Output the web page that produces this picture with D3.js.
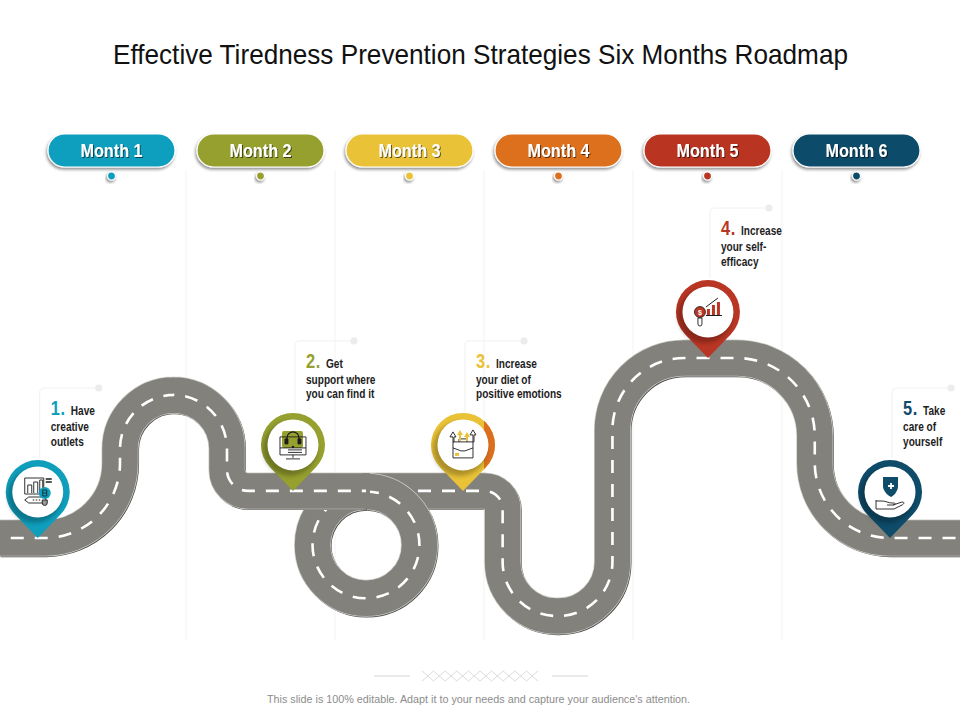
<!DOCTYPE html>
<html>
<head>
<meta charset="utf-8">
<script src="https://cdn.jsdelivr.net/npm/d3@7"></script>
<style>
html,body{margin:0;padding:0;background:#fff;}
svg{display:block;}
text{font-family:"Liberation Sans",Arial,sans-serif;}
.narrow{font-weight:700;}
</style>
</head>
<body>
<svg id="chart" width="960" height="720"></svg>
<script>
// months along the top
var months=["Month 1","Month 2","Month 3","Month 4","Month 5","Month 6"];
var monthColors=["#0f9fbd","#95a02f","#e9c237","#dc6f1f","#b93624","#0e4c6a"];

// road: x in months, y in height level, corner radius in level units
var roadAMonth=[-0.25,0.557,0.557,1.275,1.275,2.208];
var roadALevel=[34,34,81.7,81.7,49.7,49.7];
var roadARadius=[0,25,18,18,7,0];
var roadBMonth=[2.208,3.125,3.125,3.862,3.862,5.22,5.22,6.195];
var roadBLevel=[49.7,49.7,8,8,94,94,34,34];
var roadBRadius=[0,6,18,18,24,26,25,0];
var loopMonth=2.208, loopLevel=31.7, loopRadius=17.8;

// milestones
var stepMonth=[0.005,1.718,2.859,4.503,5.725];
var stepLevel=[34,49.7,49.7,94,34];
var stepColors=["#0f9fbd","#95a02f","#e9c237","#b93624","#0e4c6a"];
var stepFirst=["Have","Get","Increase","Increase","Take"];
var stepRest=[["creative","outlets"],["support where","you can find it"],["your diet of","positive emotions"],["your self-","efficacy"],["care of","yourself"]];

var svg=d3.select("#chart");
var x=d3.scaleLinear().domain([0,6]).range([37,931]);
var y=d3.scaleLinear().domain([0,100]).range([640,340]);
var unit=y(0)-y(1);

var defs=svg.append("defs");
var blur=defs.append("filter").attr("id","blur").attr("x","-30%").attr("y","-30%").attr("width","160%").attr("height","160%");
blur.append("feGaussianBlur").attr("stdDeviation",2);
var shadow=defs.append("filter").attr("id","shadow").attr("x","-20%").attr("y","-30%").attr("width","140%").attr("height","170%");
shadow.append("feDropShadow").attr("dx",-1).attr("dy",2).attr("stdDeviation",1.5).attr("flood-color","#000").attr("flood-opacity",0.45);
var txtShadow=defs.append("filter").attr("id","txtShadow").attr("x","-10%").attr("y","-20%").attr("width","120%").attr("height","150%");
txtShadow.append("feDropShadow").attr("dx",1).attr("dy",1).attr("stdDeviation",0.6).attr("flood-color","#000").attr("flood-opacity",0.6);
defs.append("clipPath").attr("id","accentClip").append("rect").attr("x",21).attr("y",-90).attr("width",20).attr("height",80);

// no narrow face is installed, so squeeze the glyphs to the measured width
function squeeze(sel,factor){
	sel.each(function(){
		this.setAttribute("textLength",this.getComputedTextLength()*factor);
		this.setAttribute("lengthAdjust","spacingAndGlyphs");
	});
}

// title
svg.append("text").attr("x",480.5).attr("y",64).attr("text-anchor","middle")
	.attr("font-size",28).attr("fill","#111")
	.attr("textLength",735).attr("lengthAdjust","spacingAndGlyphs")
	.text("Effective Tiredness Prevention Strategies Six Months Roadmap");

// column separators
svg.append("g").selectAll("line").data(d3.range(1,6)).enter().append("line")
	.attr("x1",function(d){return x(d);}).attr("x2",function(d){return x(d);})
	.attr("y1",170).attr("y2",640)
	.attr("stroke","#f3f3f3").attr("stroke-width",1);

// month pills
var pill=svg.append("g").selectAll("g").data(months).enter().append("g")
	.attr("transform",function(d,i){return "translate("+x(i+0.5)+",150.5)";});
pill.append("rect").attr("x",-63.5).attr("y",-16.5).attr("width",127).attr("height",33).attr("rx",16.5)
	.attr("fill",function(d,i){return monthColors[i];})
	.attr("stroke","#fff").attr("stroke-width",1.2)
	.attr("filter","url(#shadow)");
pill.append("text").attr("class","narrow").attr("y",6.5).attr("text-anchor","middle")
	.attr("font-size",19).attr("fill","#fff").attr("filter","url(#txtShadow)")
	.attr("textLength",62).attr("lengthAdjust","spacingAndGlyphs")
	.text(function(d){return d;});
pill.append("circle").attr("cy",25.5).attr("r",4).attr("stroke","#fff").attr("stroke-width",1.2)
	.attr("fill",function(d,i){return monthColors[i];})
	.attr("filter","url(#shadow)");

// rounded polyline through the road corners
function roadPath(ms,ls,rs){
	var p=d3.path();
	p.moveTo(x(ms[0]),y(ls[0]));
	for(var i=1;i<ms.length-1;i++){
		p.arcTo(x(ms[i]),y(ls[i]),x(ms[i+1]),y(ls[i+1]),rs[i]*unit);
	}
	p.lineTo(x(ms[ms.length-1]),y(ls[ls.length-1]));
	return p.toString();
}
function loopPath(){
	var p=d3.path(), r=loopRadius*unit;
	p.arc(x(loopMonth),y(loopLevel),r,-Math.PI/2,Math.PI*1.5);
	return p.toString();
}
function drawRoad(d,offset,patch){
	var g=svg.append("g").attr("fill","none");
	g.append("path").attr("d",d).attr("stroke","#4a4a48").attr("stroke-width",36.5).attr("transform","translate(0.8,0.9)");
	g.append("path").attr("d",d).attr("stroke","#cfcfcb").attr("stroke-width",37);
	g.append("path").attr("d",d).attr("stroke","#82817b").attr("stroke-width",35.5);
	// hides the cut where this road joins the loop
	if(patch) g.append("path").attr("d",patch).attr("stroke","#82817b").attr("stroke-width",35.5);
	g.append("path").attr("d",d).attr("stroke","#fff").attr("stroke-width",2.6)
		.attr("stroke-dasharray","13 11").attr("stroke-dashoffset",offset);
}
drawRoad(roadPath(roadBMonth,roadBLevel,roadBRadius),20);
drawRoad(loopPath(),0);
var joinX=x(roadAMonth[roadAMonth.length-1]), joinY=y(roadALevel[roadALevel.length-1]);
drawRoad(roadPath(roadAMonth,roadALevel,roadARadius),13,"M"+(joinX-3)+","+joinY+"H"+(joinX+4));

// icons, drawn around the centre of each pin
var ink="#1c1c1c";
function line(g,d,fill){
	return g.append("path").attr("d",d).attr("fill",fill||"#fff").attr("stroke",ink).attr("stroke-width",0.9);
}
function icon1(g,c){
	line(g,"M-13,-14H6V2H-13Z");
	line(g,"M-10,1V-7H-6V1M-4,1V-10H0V1M2,1V-12H5V1");
	g.append("path").attr("d","M8,-13H14M8,-10H14").attr("stroke",ink).attr("stroke-width",1.5);
	line(g,"M-13,8L-9,5H8V11H-9Z");
	g.append("path").attr("d","M-5,8H4").attr("stroke",ink).attr("stroke-width",1).attr("stroke-dasharray","1.5 1.5");
	g.append("circle").attr("cx",7).attr("cy",1).attr("r",6).attr("fill",c);
	g.append("path").attr("d","M5,-2H9V4H5ZM5,1H9").attr("fill","none").attr("stroke",ink).attr("stroke-width",0.8);
	line(g,"M4.5,8H9.5V11A2.5,2.5 0 0 1 4.5,11Z","#999");
}
function icon2(g,c){
	g.append("rect").attr("x",-11).attr("y",-14).attr("width",21).attr("height",17).attr("rx",2).attr("fill",c);
	line(g,"M-13,-8H13V10H-13Z","none");
	g.append("path").attr("d","M-13,3H13M-5,5H9M-5,7.5H9M0,10V13M-7,14H7").attr("stroke",ink).attr("stroke-width",0.9).attr("fill","none");
	line(g,"M-6,-4V-7A6,6 0 0 1 6,-7V-4","none").attr("stroke-width",1.3);
	line(g,"M-8,-6H-5V-1H-8ZM5,-6H8V-1H5Z",ink);
	g.append("circle").attr("cy",2).attr("r",1.2).attr("fill",ink);
}
function icon3(g,c){
	line(g,"M-10,-3H10V13H-10Z");
	line(g,"M-4,-3V-6H4V-3","none");
	g.append("path").attr("d","M-10,3L-2,6H2L10,3").attr("fill","none").attr("stroke",ink).attr("stroke-width",0.9);
	g.append("rect").attr("x",-8).attr("y",8).attr("width",4).attr("height",3).attr("fill",c);
	line(g,"M-10,-3V-8H-13L-10,-13L-7,-8H-9V-3Z");
	line(g,"M10,-3V-10H7L10,-15L13,-10H11V-3Z");
	g.append("path").attr("d","M-4,-4V-10H-6L-3,-15L0,-10H-2V-4Z M3,-4V-8H1L4,-13L7,-8H5V-4Z").attr("fill",c);
}
function icon4(g,c){
	g.append("circle").attr("cx",-8).attr("cy",0).attr("r",5.5).attr("fill",c).attr("stroke",ink).attr("stroke-width",0.8);
	g.append("text").attr("x",-8).attr("y",2.5).attr("text-anchor","middle").attr("font-size",7).attr("font-weight",700).attr("fill","#fff").text("$");
	line(g,"M-10,6H-6V12A2,2 0 0 1 -10,12Z");
	g.append("path").attr("d","M-1,3V-3H2V3ZM4,3V-7H7V3ZM9,3V-10H12V3Z").attr("fill",c);
	g.append("path").attr("d","M-2,3.5H14M-2,-5L10,-14").attr("stroke",ink).attr("stroke-width",1);
}
function icon5(g,c){
	g.append("path").attr("d","M-5,-15L3,-15L3,-15L10,-15V-6C10,0 5,4 3,5C1,4 -5,0 -5,-6Z").attr("fill",c).attr("transform","translate(-2,0)");
	g.append("path").attr("d","M1,-9V-3M-2,-6H4").attr("stroke","#fff").attr("stroke-width",1.8);
	line(g,"M-14,8V17H-10M-14,9H-8C-4,9 -2,11 2,11H4C6,11 5,13 3,13H-3M3,13L12,10C15,10 14,12 12,13L4,17H-10","none");
}
var icons=[icon1,icon2,icon3,icon4,icon5];

// callouts and pins
var step=svg.append("g").selectAll("g").data(stepMonth).enter().append("g")
	.attr("transform",function(d,i){return "translate("+x(d)+","+y(stepLevel[i])+")";});

step.append("path").attr("d","M2,-80V-145Q2,-150 7,-150H61")
	.attr("fill","none").attr("stroke","#f0f0f0").attr("stroke-width",1);
step.append("circle").attr("cx",61).attr("cy",-150).attr("r",3.6).attr("fill","#ececec");

var stepNum=step.append("text").attr("class","narrow").attr("x",13).attr("y",-123).attr("font-size",20)
	.attr("letter-spacing",0.8)
	.attr("fill",function(d,i){return stepColors[i];})
	.text(function(d,i){return (i+1)+".";});
squeeze(stepNum,0.82);
var stepHead=step.append("text").attr("class","narrow").attr("x",33).attr("y",-123).attr("font-size",12).attr("fill","#1d1d1d")
	.text(function(d,i){return stepFirst[i];});
squeeze(stepHead,0.84);
step.each(function(d,i){
	var g=d3.select(this);
	stepRest[i].forEach(function(s,k){
		var t=g.append("text").attr("class","narrow").attr("x",13).attr("y",-107+k*14.5).attr("font-size",12).attr("fill","#1d1d1d").text(s);
		squeeze(t,0.84);
	});
});

function pinPath(){
	var p=d3.path(), r=32, d=46, phi=Math.acos(r/d);
	p.moveTo(0,0);
	p.lineTo(r*Math.sin(phi),-d+r*Math.cos(phi));
	p.arc(0,-d,r,Math.PI/2-phi,Math.PI/2+phi,true);
	p.closePath();
	return p.toString();
}
step.append("path").attr("d",pinPath()).attr("fill",function(d,i){return stepColors[i];});
step.filter(function(d,i){return i==2;}).append("circle").attr("cy",-46).attr("r",32)
	.attr("fill",monthColors[3]).attr("clip-path","url(#accentClip)");
step.append("circle").attr("cx",-3).attr("cy",-42).attr("r",27).attr("fill","#000").attr("opacity",0.26).attr("filter","url(#blur)");
step.append("circle").attr("cy",-46).attr("r",25.5).attr("fill","#fff");
step.append("g").attr("transform","translate(0,-46)").each(function(d,i){
	icons[i](d3.select(this),stepColors[i]);
});

// footer
svg.append("path").attr("d","M374,676H410M552,676H588").attr("stroke","#d4d4d4").attr("stroke-width",1);
var zig=d3.range(0,11).map(function(d){return 422+d*11.6;});
svg.append("g").selectAll("path").data(zig.slice(0,10)).enter().append("path")
	.attr("d",function(d){return "M"+d+",671L"+(d+11.6)+",681M"+d+",681L"+(d+11.6)+",671";})
	.attr("stroke","#dcdcdc").attr("stroke-width",1).attr("fill","none");
svg.append("text").attr("x",478.5).attr("y",703).attr("text-anchor","middle")
	.attr("font-size",10).attr("fill","#8c8c8c")
	.attr("textLength",423).attr("lengthAdjust","spacingAndGlyphs")
	.text("This slide is 100% editable. Adapt it to your needs and capture your audience's attention.");
</script>
</body>
</html>
